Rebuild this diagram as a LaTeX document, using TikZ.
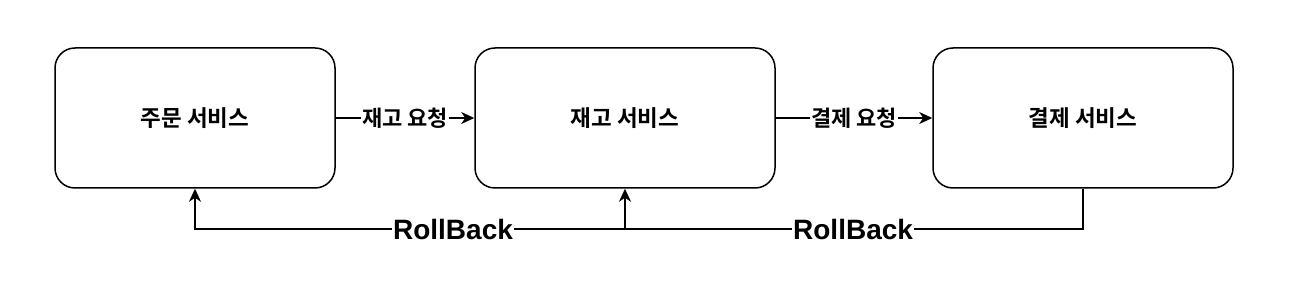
\documentclass[tikz,border=0pt]{standalone}
\usepackage{fontspec}
\setmainfont{Liberation Sans}
\newfontfamily\kr{Noto Sans CJK KR}[BoldFont={* Bold}]
\usetikzlibrary{arrows.meta}
\begin{document}
\begin{tikzpicture}[x=1pt,y=-1pt,
  svc/.style={draw,line width=1.5pt,rounded corners=20pt,minimum width=280pt,minimum height=140pt,font=\kr\bfseries\fontsize{22.5}{26}\selectfont},
  conn/.style={line width=1.5pt,-{Stealth[length=13pt,width=12pt,inset=4pt]}},
  elab/.style={fill=white,inner sep=1pt,font=\kr\bfseries\fontsize{22}{26}\selectfont},
  rlab/.style={fill=white,inner sep=1pt,font=\bfseries\fontsize{28}{32}\selectfont}]
\useasboundingbox (0,0) rectangle (1294,304);
\node[svc] (order) at (195,118) {주문 서비스};
\node[svc,minimum width=300pt] (stock) at (625,118) {재고 서비스};
\node[svc,minimum width=300pt] (pay) at (1083,118) {결제 서비스};
\draw[conn] (order) -- node[elab] (l1) {재고 요청} (stock);
\draw[conn] (stock) -- node[elab] (l2) {결제 요청} (pay);
\coordinate (j) at (625,229);
\draw[conn] (pay.south) |- node[rlab,pos=0.751] (r2) {RollBack} (j) -- (stock.south);
\draw[conn] (j) -| node[rlab,pos=0.2] (r1) {RollBack} (order.south);
\end{tikzpicture}
\end{document}
